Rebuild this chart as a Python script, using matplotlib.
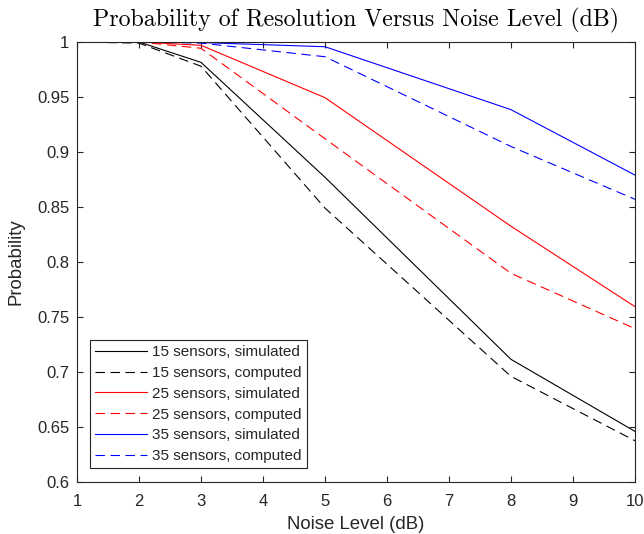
import matplotlib
matplotlib.use("Agg")
import matplotlib.pyplot as plt

noise_db = [1, 2, 3, 5, 8, 10]
s15_sim = [1.0, 1.0, 0.9815, 0.877, 0.7115, 0.646]
s15_comp = [1.0, 0.999, 0.978, 0.849, 0.696, 0.6375]
s25_sim = [1.0, 1.0, 0.997, 0.9494, 0.8325, 0.7594]
s25_comp = [1.0, 1.0, 0.9943, 0.912, 0.7897, 0.7394]
s35_sim = [1.0, 1.0, 0.9995, 0.9957, 0.9385, 0.879]
s35_comp = [1.0, 1.0, 0.999, 0.9866, 0.905, 0.857]
labels = ["15 sensors, simulated", "15 sensors, computed",
          "25 sensors, simulated", "25 sensors, computed",
          "35 sensors, simulated", "35 sensors, computed"]

plt.rcParams['font.family'] = ['Liberation Sans', 'DejaVu Sans']
fig = plt.figure(figsize=(6.44, 5.34), dpi=100)
L, R, T, B = 77, 635, 42, 482
ax = fig.add_axes([L/644, 1-B/534, (R-L)/644, (B-T)/534])

lw = 0.8
dash = (0, (8.5, 5))
ax.plot(noise_db, s15_sim, color='black', lw=lw, label=labels[0])
ax.plot(noise_db, s15_comp, color='black', lw=lw, ls=dash, label=labels[1])
ax.plot(noise_db, s25_sim, color='#ff0000', lw=lw, label=labels[2])
ax.plot(noise_db, s25_comp, color='#ff0000', lw=lw, ls=dash, label=labels[3])
ax.plot(noise_db, s35_sim, color='#0000ff', lw=lw, label=labels[4])
ax.plot(noise_db, s35_comp, color='#0000ff', lw=lw, ls=dash, label=labels[5])

ax.set_xlim(1, 10)
ax.set_ylim(0.6, 1.0)
ax.set_xticks(range(1, 11))
yt = [0.6, 0.65, 0.7, 0.75, 0.8, 0.85, 0.9, 0.95, 1.0]
ax.set_yticks(yt)
ax.set_yticklabels(['0.6', '0.65', '0.7', '0.75', '0.8', '0.85', '0.9', '0.95', '1'])
ax.tick_params(direction='in', top=True, right=True, length=4, width=0.8,
               labelsize=12, colors='#262626')
ax.tick_params(axis='x', pad=9)
ax.tick_params(axis='y', pad=5.5)
for s in ax.spines.values():
    s.set_color('#262626')
    s.set_linewidth(0.8)

W, H = R - L, B - T
ax.set_xlabel('Noise Level (dB)', fontsize=13.4, color='#262626')
ax.xaxis.set_label_coords(0.5, -(516 - B)/H)
ax.set_ylabel('Probability', fontsize=13.4, color='#262626')
ax.yaxis.set_label_coords(-(L - 25)/W, 0.5)
ax.set_title('Probability of Resolution Versus Noise Level (dB)', fontsize=17.2,
             family='cmr10', color='black', pad=11.5)

leg = ax.legend(loc='lower left', bbox_to_anchor=((90 - L)/W, (B - 468)/H), fontsize=11,
                frameon=True, fancybox=False, handlelength=3.4, handletextpad=0.33,
                borderpad=0.33, labelspacing=0.44, borderaxespad=0, labelcolor='#262626')
leg.get_frame().set_edgecolor('#262626')
leg.get_frame().set_linewidth(0.8)
leg.get_frame().set_alpha(1)

fig.savefig('out.png', dpi=100)
